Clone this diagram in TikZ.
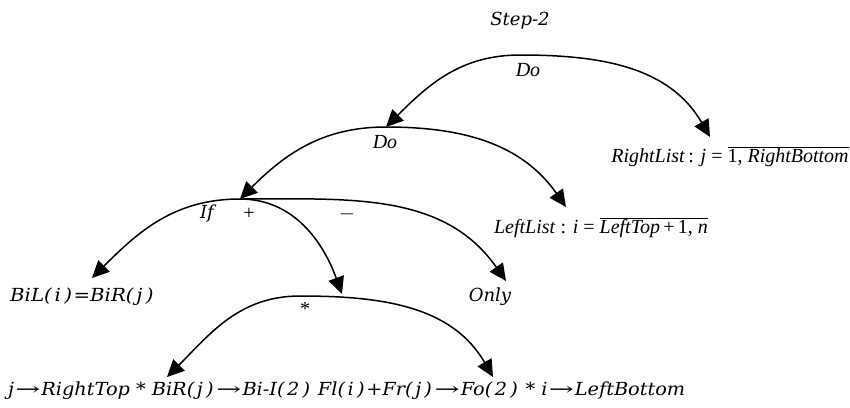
\documentclass[tikz,border=0pt]{standalone}
\usepackage{fontspec}
\usepackage{graphicx}
\setmainfont{DejaVu Serif}
\newfontfamily\tms{Liberation Serif}
\usetikzlibrary{arrows.meta}
\newcommand\po{(\kern2.5pt}
\newcommand\pc{\kern3pt)\kern1.5pt}
\newcommand\ra{\kern1pt\scalebox{1.55}[1]{→}\kern1pt}
\tikzset{
  conn/.style={line width=1.5pt, -{Triangle[length=17pt,width=16pt]}},
  cs/.style={font=\fontsize{18}{21}\selectfont\itshape, inner sep=0pt},
  tm/.style={font=\fontsize{20}{24}\selectfont\tms, inner sep=0pt},
  tmi/.style={font=\fontsize{20}{24}\selectfont\tms\itshape, inner sep=0pt},
}
\begin{document}
\begin{tikzpicture}[x=1pt,y=-1pt]
\useasboundingbox (0,0) rectangle (850,407);
% labels
\node[cs] (step) at (520,21) {Step-2};
\node[tmi] (do1) at (528,70) {Do};
\node[tm] (rl) at (730,157) {\textit{RightList}\,: \textit{j} = $\overline{\hbox{1, \textit{RightBottom}}}$};
\node[tmi] (do2) at (385,142) {Do};
\node[tm] (ll) at (601,228) {\textit{LeftList} : \textit{i} = $\overline{\hbox{\textit{LeftTop}\,+\,1, \textit{n}}}$};
\node[cs] (if) at (207,214) {If};
\node[tm] (plus) at (249,214) {+};
\node[tm] (minus) at (347,214) {$-$};
\node[cs, anchor=west] (bil) at (10,297) {\resizebox{145pt}{\height}{BiL\po i\pc=BiR\po j\pc}};
\node[cs] (only) at (490,297) {Only};
\node[tm] (star) at (305,309) {*};
\node[cs, anchor=west] (bot) at (8,391) {\resizebox{677pt}{\height}{j\ra RightTop * BiR\po j\pc\ra Bi-I\po 2\pc{} Fl\po i\pc+Fr\po j\pc\ra Fo\po 2\pc{} * i\ra LeftBottom}};
% arc points
\coordinate (a1) at (520,55);
\coordinate (a2) at (386,127);
\coordinate (a3) at (240,199);
\coordinate (a4) at (300,296);
\coordinate (t1r) at (710,137);
\coordinate (t2r) at (566,207);
\coordinate (t3l) at (92,278);
\coordinate (t3m) at (342,294);
\coordinate (t3r) at (506,281);
\coordinate (t4l) at (167,377);
\coordinate (t4r) at (493,377);
% connectors
\draw[conn] (a1) to[out=180,in=45] (a2);
\draw[conn] (a1) to[out=0,in=120] (t1r);
\draw[conn] (a2) to[out=180,in=45] (a3);
\draw[conn] (a2) to[out=0,in=125] (t2r);
\draw[conn] (a3) to[out=180,in=45] (t3l);
\draw[conn] (a3) to[out=0,in=110] (t3m);
\draw[conn] (a3) to[out=0,in=125] (t3r);
\draw[conn] (a4) to[out=180,in=45] (t4l);
\draw[conn] (a4) to[out=0,in=120] (t4r);
\end{tikzpicture}
\end{document}
